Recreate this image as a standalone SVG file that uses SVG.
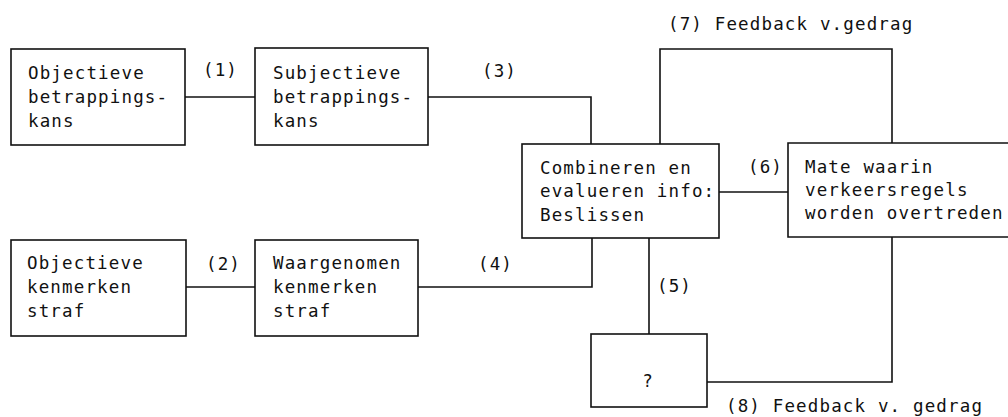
<svg xmlns="http://www.w3.org/2000/svg" width="1008" height="417" viewBox="0 0 1008 417">
  <style>
    .box { fill: #ffffff; stroke: #111111; stroke-width: 1.6; }
    .wire { fill: none; stroke: #111111; stroke-width: 1.6; }
    text { font-family: "DejaVu Sans Mono", "Liberation Mono", monospace; font-size: 17.5px; letter-spacing: 1.15px; fill: #111111; }
  </style>
  <rect width="1008" height="417" fill="#ffffff"/>

  <!-- connectors -->
  <g id="connectors">
    <path class="wire" d="M185,97 H255"/>
    <path class="wire" d="M186,287 H255"/>
    <path class="wire" d="M428,97 H591 V144"/>
    <path class="wire" d="M418,287 H592 V238"/>
    <path class="wire" d="M649,238 V334"/>
    <path class="wire" d="M719,192 H788"/>
    <path class="wire" d="M660,144 V49 H892 V143"/>
    <path class="wire" d="M892,237 V382 H707"/>
    <text x="203" y="76">(1)</text>
    <text x="206" y="270">(2)</text>
    <text x="482" y="77">(3)</text>
    <text x="478" y="270">(4)</text>
    <text x="657" y="292">(5)</text>
    <text x="748" y="173">(6)</text>
    <text x="668" y="30">(7) Feedback v.gedrag</text>
    <text x="726" y="412">(8) Feedback v. gedrag</text>
  </g>

  <g id="obj-betrappingskans">
    <rect class="box" x="11" y="49" width="174" height="96"/>
    <text x="28" y="79">Objectieve</text>
    <text x="28" y="103">betrappings-</text>
    <text x="28" y="127">kans</text>
  </g>

  <g id="subj-betrappingskans">
    <rect class="box" x="255" y="48" width="173" height="97"/>
    <text x="273" y="79">Subjectieve</text>
    <text x="273" y="103">betrappings-</text>
    <text x="273" y="127">kans</text>
  </g>

  <g id="combineren">
    <rect class="box" x="522" y="144" width="197" height="94"/>
    <text x="540" y="174">Combineren en</text>
    <text x="540" y="197">evalueren info:</text>
    <text x="540" y="221">Beslissen</text>
  </g>

  <g id="mate-overtreden">
    <path class="box" d="M1010,143 H788 V237 H1010"/>
    <text x="805" y="173">Mate waarin</text>
    <text x="805" y="196">verkeersregels</text>
    <text x="805" y="219">worden overtreden</text>
  </g>

  <g id="onbekend">
    <rect class="box" x="591" y="334" width="116" height="73"/>
    <text x="648" y="387" text-anchor="middle">?</text>
  </g>

  <g id="obj-kenmerken-straf">
    <rect class="box" x="11" y="240" width="175" height="96"/>
    <text x="27" y="269">Objectieve</text>
    <text x="27" y="293">kenmerken</text>
    <text x="27" y="317">straf</text>
  </g>

  <g id="waargenomen-kenmerken">
    <rect class="box" x="255" y="240" width="163" height="96"/>
    <text x="273" y="269">Waargenomen</text>
    <text x="273" y="293">kenmerken</text>
    <text x="273" y="317">straf</text>
  </g>
</svg>
